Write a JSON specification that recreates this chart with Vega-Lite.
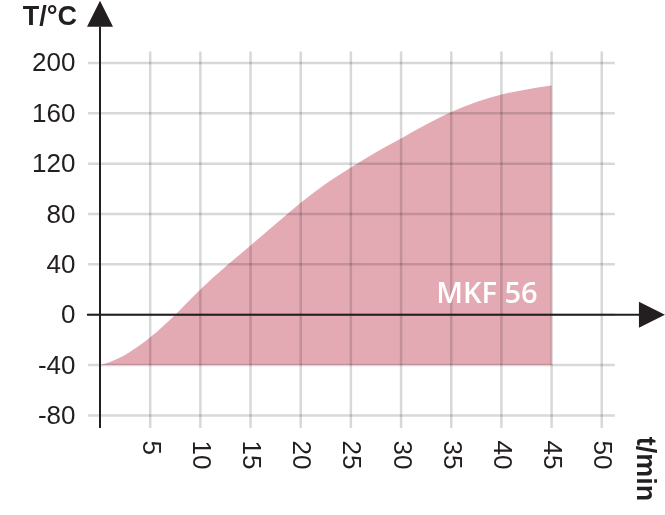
{
  "$schema": "https://vega.github.io/schema/vega-lite/v6.json",
  "width": 565,
  "height": 428,
  "autosize": {"type": "none"},
  "padding": {"left": 100, "top": 0, "right": 0, "bottom": 87},
  "background": "white",
  "config": {"view": {"stroke": null}},
  "datasets": {
    "curve": [
      {"t": 0, "T": -40}, {"t": 1, "T": -37.5}, {"t": 2.5, "T": -32},
      {"t": 5, "T": -18}, {"t": 7.5, "T": 0}, {"t": 10, "T": 20},
      {"t": 12.5, "T": 38}, {"t": 15, "T": 55}, {"t": 17.5, "T": 72},
      {"t": 20, "T": 89}, {"t": 22.5, "T": 104}, {"t": 25, "T": 117},
      {"t": 27.5, "T": 129}, {"t": 30, "T": 140}, {"t": 32.5, "T": 151},
      {"t": 35, "T": 161}, {"t": 37.5, "T": 169}, {"t": 40, "T": 175},
      {"t": 42.5, "T": 179}, {"t": 45, "T": 182}
    ],
    "hgrid": [{"T": -80}, {"T": -40}, {"T": 0}, {"T": 40}, {"T": 80}, {"T": 120}, {"T": 160}, {"T": 200}],
    "vgrid": [{"t": 5}, {"t": 10}, {"t": 15}, {"t": 20}, {"t": 25}, {"t": 30}, {"t": 35}, {"t": 40}, {"t": 45}, {"t": 50}],
    "one": [{}]
  },
  "layer": [
    {
      "data": {"name": "curve"},
      "mark": {"type": "area", "color": "#e4aab3", "interpolate": "monotone", "opacity": 1},
      "encoding": {
        "x": {
          "field": "t", "type": "quantitative", "title": null,
          "scale": {"domain": [0, 56.3], "nice": false, "zero": false},
          "axis": {
            "values": [5, 10, 15, 20, 25, 30, 35, 40, 45, 50],
            "title": null, "domain": false, "ticks": false, "grid": false,
            "labelAngle": 90, "labelAlign": "left", "labelBaseline": "middle",
            "labelPadding": 12, "labelFont": "Liberation Sans", "labelFontSize": 26,
            "labelColor": "#231f20"
          }
        },
        "y": {
          "field": "T", "type": "quantitative", "title": null,
          "scale": {"domain": [-90, 250], "nice": false, "zero": false},
          "axis": {
            "values": [-80, -40, 0, 40, 80, 120, 160, 200],
            "labelExpr": "'' + datum.value",
            "title": null, "domain": false, "ticks": false, "grid": false,
            "labelPadding": 25, "labelFont": "Liberation Sans", "labelFontSize": 26,
            "labelColor": "#231f20"
          }
        },
        "y2": {"datum": -40}
      }
    },
    {
      "data": {"name": "hgrid"},
      "mark": {"type": "rule", "color": "#d8d8d8", "strokeWidth": 2.5, "blend": "multiply"},
      "encoding": {
        "y": {"field": "T", "type": "quantitative", "title": null},
        "x": {"datum": -1.2, "type": "quantitative", "title": null},
        "x2": {"datum": 51.3}
      }
    },
    {
      "data": {"name": "vgrid"},
      "mark": {"type": "rule", "color": "#d8d8d8", "strokeWidth": 2.5, "blend": "multiply"},
      "encoding": {
        "x": {"field": "t", "type": "quantitative", "title": null},
        "y": {"datum": -90, "type": "quantitative", "title": null},
        "y2": {"datum": 209}
      }
    },
    {
      "data": {"name": "one"},
      "mark": {"type": "rule", "color": "#231f20", "strokeWidth": 2},
      "encoding": {
        "x": {"datum": 0, "type": "quantitative", "title": null},
        "y": {"datum": -90, "type": "quantitative", "title": null},
        "y2": {"datum": 229}
      }
    },
    {
      "data": {"name": "one"},
      "mark": {"type": "rule", "color": "#231f20", "strokeWidth": 2},
      "encoding": {
        "y": {"datum": 0, "type": "quantitative", "title": null},
        "x": {"datum": -1.3, "type": "quantitative", "title": null},
        "x2": {"datum": 54}
      }
    },
    {
      "data": {"name": "one"},
      "mark": {"type": "point", "filled": true, "opacity": 1, "color": "#231f20", "shape": "M0,-1L1,1L-1,1Z", "size": 676},
      "encoding": {
        "x": {"datum": 0, "type": "quantitative", "title": null},
        "y": {"datum": 239, "type": "quantitative", "title": null}
      }
    },
    {
      "data": {"name": "one"},
      "mark": {"type": "point", "filled": true, "opacity": 1, "color": "#231f20", "shape": "M1,0L-1,1L-1,-1Z", "size": 676},
      "encoding": {
        "x": {"datum": 55.0, "type": "quantitative", "title": null},
        "y": {"datum": 0, "type": "quantitative", "title": null}
      }
    },
    {
      "data": {"name": "one"},
      "mark": {"type": "text", "text": "MKF 56", "color": "white", "font": "Open Sans", "fontWeight": 600, "fontSize": 29, "align": "right", "baseline": "alphabetic"},
      "encoding": {
        "x": {"datum": 43.6, "type": "quantitative", "title": null},
        "y": {"datum": 9.3, "type": "quantitative", "title": null}
      }
    },
    {
      "data": {"name": "one"},
      "mark": {"type": "text", "text": "T/°C", "color": "#231f20", "font": "Liberation Sans", "fontWeight": "bold", "fontSize": 27, "align": "center", "baseline": "alphabetic"},
      "encoding": {
        "x": {"datum": -5.0, "type": "quantitative", "title": null},
        "y": {"datum": 230, "type": "quantitative", "title": null}
      }
    },
    {
      "data": {"name": "one"},
      "mark": {"type": "text", "text": "t/min", "color": "#231f20", "font": "Liberation Sans", "fontWeight": "bold", "fontSize": 27, "align": "left", "baseline": "middle", "angle": 90},
      "encoding": {
        "x": {"datum": 54.3, "type": "quantitative", "title": null},
        "y": {"datum": -97, "type": "quantitative", "title": null}
      }
    }
  ]
}
